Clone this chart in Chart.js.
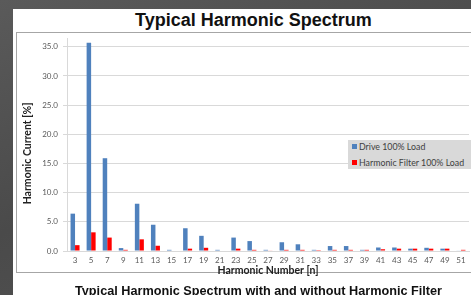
<!DOCTYPE html>
<html>
<head>
<meta charset="utf-8">
<script src="https://cdn.jsdelivr.net/npm/chart.js@4.4.0/dist/chart.umd.min.js"></script>
<style>
  html, body { margin: 0; padding: 0; }
  body {
    width: 471px; height: 295px; overflow: hidden; position: relative;
    background: linear-gradient(160deg, #5a5a5a 0%, #4a4a4a 50%, #555 100%);
  }
  #panel { position: absolute; left: 13px; top: 9px; right: 0; bottom: 0; background: #fff; }
  #frame { position: absolute; left: 16px; top: 32px; width: 460px; height: 241px; border: 1.5px solid #a6a6a6; box-sizing: border-box; }
  #title {
    position: absolute; left: 135px; top: 10px; line-height: 18px; white-space: nowrap;
    font: bold 18px "Liberation Sans", Arial, sans-serif; color: #111;
  }
  #caption {
    position: absolute; left: 75px; top: 284px; line-height: 13px; white-space: nowrap;
    font: bold 12.7px "Liberation Sans", Arial, sans-serif; color: #111;
  }
  #legend {
    position: absolute; left: 348px; top: 140px; width: 123px; height: 29px;
    background: #d9d9d9; font: 8.8px Lato, sans-serif; color: #404040;
  }
  #legend div { position: absolute; left: 4px; line-height: 10px; white-space: nowrap; }
  #legend span { display: inline-block; width: 5px; height: 5px; margin-right: 2px; vertical-align: 1px; }
  canvas { position: absolute; left: 0; top: 0; }
</style>
</head>
<body>
<div id="panel"></div>
<div id="frame"></div>
<div id="title">Typical Harmonic Spectrum</div>
<canvas id="myChart" width="471" height="295"></canvas>
<div id="legend"></div>
<div id="caption">Typical Harmonic Spectrum with and without Harmonic Filter</div>
<script>
// Harmonic orders (x axis)
const harmonics = ['3','5','7','9','11','13','15','17','19','21','23','25','27','29','31','33','35','37','39','41','43','45','47','49','51'];
// Harmonic current in % per series
const driveLoad = [6.4, 35.7, 15.9, 0.5, 8.1, 4.5, 0.2, 3.9, 2.6, 0.2, 2.3, 1.7, 0.2, 1.5, 1.15, 0.2, 0.85, 0.85, 0.2, 0.6, 0.6, 0.4, 0.55, 0.4, 0.1];
const filterLoad = [1.0, 3.2, 2.3, 0.2, 2.0, 0.9, 0.0, 0.4, 0.55, 0.0, 0.4, 0.2, 0.1, 0.2, 0.2, 0.15, 0.2, 0.2, 0.2, 0.3, 0.4, 0.4, 0.4, 0.4, 0.2];
const seriesNames = ['Drive 100% Load', 'Harmonic Filter 100% Load'];
const seriesColors = ['#4f81bd', '#ff0000'];
const yTicks = [0, 5, 10, 15, 20, 25, 30, 35];

// legend (sits over the plot, like the Excel one)
const legend = document.getElementById('legend');
seriesNames.forEach(function(name, i) {
    const item = document.createElement('div');
    item.style.top = (2 + i * 16) + 'px';
    item.innerHTML = '<span style="background:' + seriesColors[i] + '"></span>' + name;
    legend.appendChild(item);
});

const tickFont = { family: 'Lato, sans-serif', size: 8 };
const axisTitleFont = { family: 'Lato, sans-serif', size: 10.5, weight: 'bold' };

new Chart(document.getElementById('myChart'), {
    type: 'bar',
    data: {
        labels: harmonics,
        datasets: [
            { label: seriesNames[0], data: driveLoad, backgroundColor: seriesColors[0] },
            { label: seriesNames[1], data: filterLoad, backgroundColor: seriesColors[1] }
        ]
    },
    options: {
        responsive: false,
        animation: false,
        layout: { padding: { left: 16, top: 38, right: 2, bottom: 18 } },
        datasets: { bar: { barPercentage: 1, categoryPercentage: 0.56 } },
        plugins: { legend: { display: false }, tooltip: { enabled: false } },
        scales: {
            x: {
                grid: { display: false, drawTicks: false },
                border: { color: '#d9d9d9' },
                ticks: { color: '#595959', font: tickFont, padding: 5, maxRotation: 0, autoSkip: false },
                title: { display: true, text: 'Harmonic Number [n]', color: '#222', font: axisTitleFont, padding: 0 },
                afterFit: function(scale) { scale.height = 26; }
            },
            y: {
                min: 0,
                max: 36.5,
                grid: { color: '#d9d9d9', tickLength: 4 },
                border: { color: '#d9d9d9' },
                ticks: {
                    color: '#595959', font: tickFont, padding: 5,
                    callback: function(v) { return v.toFixed(1); }
                },
                afterBuildTicks: function(scale) {
                    scale.ticks = yTicks.map(function(v) { return { value: v }; });
                },
                // trailing spaces push the label a bit lower, as in the original
                title: { display: true, text: 'Harmonic Current [%]       ', color: '#222', font: axisTitleFont, padding: { top: 5 } },
                afterFit: function(scale) { scale.width = 51; }
            }
        }
    }
});
</script>
</body>
</html>
